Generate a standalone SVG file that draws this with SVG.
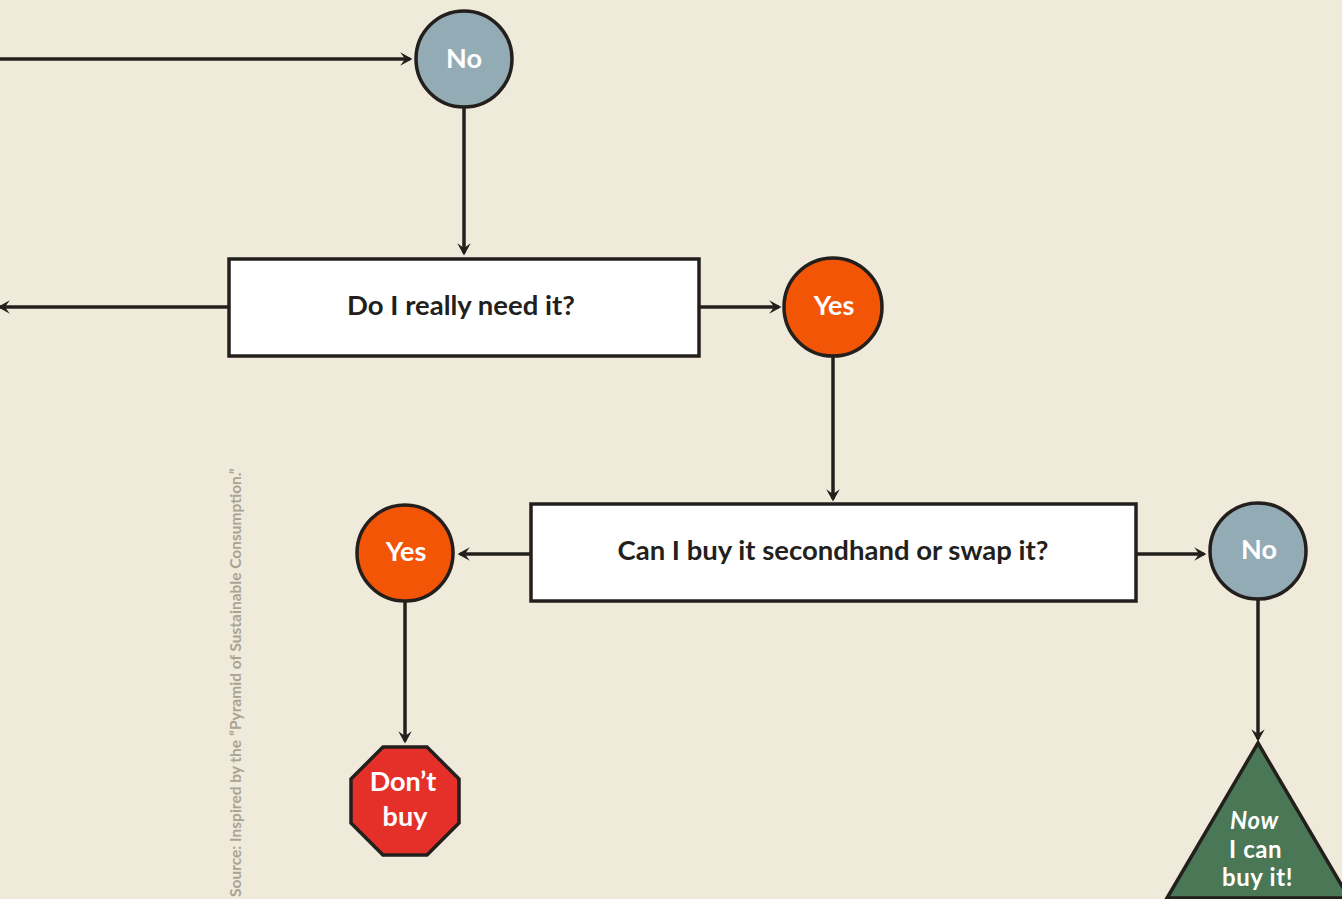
<svg xmlns="http://www.w3.org/2000/svg" width="1342" height="899" viewBox="0 0 1342 899">
<defs>
<marker id="ah" viewBox="0 0 12 12" refX="9" refY="6" markerWidth="4.2" markerHeight="4.2" orient="auto" markerUnits="strokeWidth">
<path d="M1,0.5 L11,6 L1,11.5 L5,6 z" fill="#231f1c"/>
</marker>
<style>
.ln{stroke:#231f1c;stroke-width:3.5;fill:none;marker-end:url(#ah)}
.bx{fill:#ffffff;stroke:#231f1c;stroke-width:3.5}
.ci{stroke:#231f1c;stroke-width:3.5}
.no{fill:#93abb5}
.yes{fill:#f25506}
.t{font-family:Lato,"Open Sans",sans-serif;font-weight:bold;text-anchor:middle}
.bt{fill:#231f1c;font-size:27.5px}
.wt{fill:#ffffff;font-size:27px}
.tl{text-anchor:start}
.tri{font-size:24px;letter-spacing:0.6px}
</style>
</defs>
<rect width="1342" height="899" fill="#f0eadb"/>
<g id="connectors">
<line class="ln" x1="0" y1="59" x2="410" y2="59"/>
<line class="ln" x1="464" y1="108" x2="464" y2="253"/>
<line class="ln" x1="229" y1="307" x2="0" y2="307"/>
<line class="ln" x1="699" y1="307" x2="779" y2="307"/>
<line class="ln" x1="833" y1="356" x2="833" y2="499"/>
<line class="ln" x1="531" y1="554" x2="460" y2="554"/>
<line class="ln" x1="1136" y1="554" x2="1204" y2="554"/>
<line class="ln" x1="405" y1="601" x2="405" y2="741"/>
<line class="ln" x1="1258" y1="600" x2="1258" y2="739"/>
</g>
<g id="no1">
<circle class="ci no" cx="464" cy="59" r="48"/>
<text class="t wt" x="464" y="68">No</text>
</g>
<g id="q1">
<rect class="bx" x="229" y="259" width="470" height="97"/>
<text class="t bt" x="461" y="315">Do I really need it?</text>
</g>
<g id="yes1">
<circle class="ci yes" cx="833" cy="307" r="49"/>
<text class="t wt" x="834" y="315">Yes</text>
</g>
<g id="q2">
<rect class="bx" x="531" y="504" width="605" height="97"/>
<text class="t bt" x="833" y="560">Can I buy it secondhand or swap it?</text>
</g>
<g id="yes2">
<circle class="ci yes" cx="405" cy="553" r="48"/>
<text class="t wt" x="406" y="561">Yes</text>
</g>
<g id="no2">
<circle class="ci no" cx="1258" cy="551" r="48"/>
<text class="t wt" x="1259" y="559">No</text>
</g>
<g id="dontbuy">
<polygon class="ci" fill="#e5302a" points="383,747 427,747 459,779 459,823 427,855 383,855 351,823 351,779"/>
<text class="t wt" x="403" y="791" font-size="28">Don’t</text>
<text class="t wt" x="405" y="826" font-size="28">buy</text>
</g>
<g id="canbuy">
<polygon class="ci" fill="#4a7755" points="1258,743 1349,898 1167,898"/>
<text class="t wt tl tri" x="1230" y="829" font-style="italic">Now</text>
<text class="t wt tl tri" x="1229" y="858">I can</text>
<text class="t wt tl tri" x="1222" y="886">buy it!</text>
</g>
<text x="0" y="0" transform="translate(241,897) rotate(-90)" font-family="Lato,'Open Sans',sans-serif" font-weight="bold" font-size="15.5" fill="#a9a395">Source: Inspired by the “Pyramid of Sustainable Consumption.”</text>
</svg>
